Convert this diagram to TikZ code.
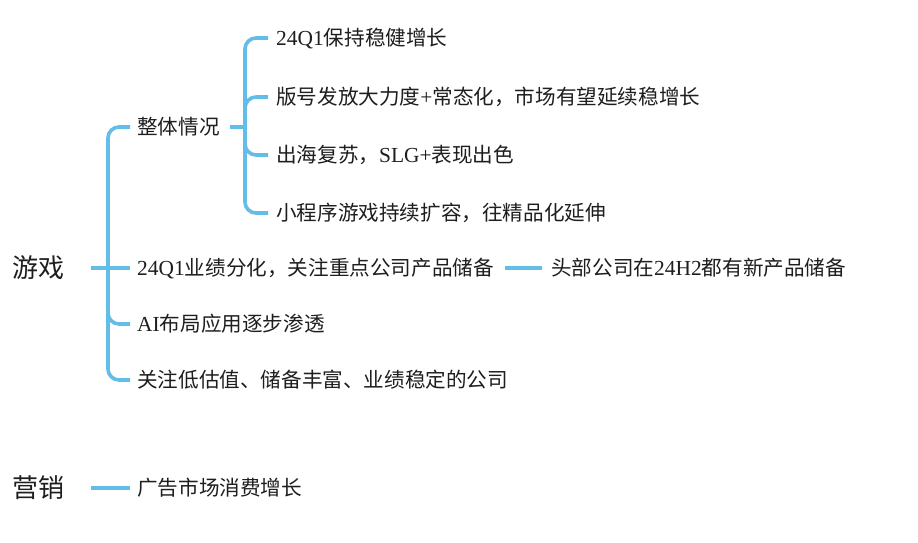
\documentclass[tikz,border=0pt]{standalone}
\usepackage{fontspec}
\setmainfont{Noto Sans CJK SC}
\newfontfamily\lat[Scale=1.04]{Liberation Serif}
\definecolor{br}{HTML}{62BDE8}
\definecolor{ink}{HTML}{1E1E1E}
\begin{document}
\begin{tikzpicture}[x=1pt,y=-1pt,
  leaf/.style={anchor=west, inner xsep=0pt, inner ysep=0pt, font=\fontsize{20.6}{24}\selectfont, text=ink, text height=16.5pt, text depth=2pt},
  topic/.style={anchor=west, inner xsep=0pt, inner ysep=0pt, font=\fontsize{26}{30}\selectfont, text=ink, text height=21pt, text depth=2pt},
  link/.style={draw=br, line width=3.6pt, rounded corners=11pt}]
\useasboundingbox[fill=white] (0,0) rectangle (918,542);

\node[topic] (game) at (12,268) {游戏};
\node[topic] (mkt)  at (12,488) {营销};

\node[leaf] (b1) at (137,127) {整体情况};
\node[leaf] (b2) at (137,268) {{\lat 24Q1}业绩分化，关注重点公司产品储备};
\node[leaf] (b3) at (137,324) {{\lat AI}布局应用逐步渗透};
\node[leaf] (b4) at (137,380) {关注低估值、储备丰富、业绩稳定的公司};

\node[leaf] (c1) at (276,38)  {{\lat 24Q1}保持稳健增长};
\node[leaf] (c2) at (276,97)  {版号发放大力度{\lat +}常态化，市场有望延续稳增长};
\node[leaf] (c3) at (276,155) {出海复苏，{\lat SLG+}表现出色};
\node[leaf] (c4) at (276,213) {小程序游戏持续扩容，往精品化延伸};

\node[leaf] (t1) at (551,268) {头部公司在{\lat 24H2}都有新产品储备};

\node[leaf] (m1) at (137,488) {广告市场消费增长};

% level 1
\coordinate (j1) at (108,268);
\draw[link] ([xshift=27]game.east) -- ([xshift=-7]b2.west);
\draw[link] (j1) |- ([xshift=-7]b1.west);
\draw[link] (j1) |- ([xshift=-7]b3.west);
\draw[link] (j1) |- ([xshift=-7]b4.west);

% level 2
\coordinate (j2) at (245,127);
\draw[link] ([xshift=10]b1.east) -- (j2);
\draw[link] (j2) |- ([xshift=-8]c1.west);
\draw[link] (j2) |- ([xshift=-8]c2.west);
\draw[link] (j2) |- ([xshift=-8]c3.west);
\draw[link] (j2) |- ([xshift=-8]c4.west);

% tail
\draw[link] ([xshift=11]b2.east) -- ([xshift=-9]t1.west);

% marketing
\draw[link] ([xshift=27]mkt.east) -- ([xshift=-7]m1.west);
\end{tikzpicture}
\end{document}
